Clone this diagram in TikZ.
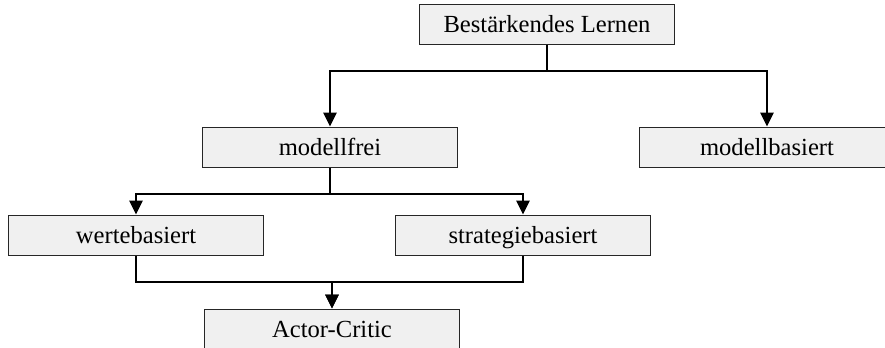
\documentclass[tikz,border=0pt]{standalone}
\usepackage{fontspec}
\setmainfont{Liberation Serif}
\usetikzlibrary{graphs,calc,arrows.meta}
\tikzstyle{block} = [minimum height=20pt, minimum width=127.5pt, inner sep=0pt, text height=9.6pt, text depth=1.4pt, text centered, draw=black!85, line width=0.5pt, fill=gray!12, font=\fontsize{12.3}{14}\selectfont]
\tikzstyle{branch} = [to path={-- ($(\tikztostart.south)+(0,26)$) -| (\tikztotarget)}, line width=1pt]

\begin{document}
\begin{tikzpicture}[x=0.5pt, y=-0.5pt, >={Triangle[length=7pt, width=6.7pt]}]
    \useasboundingbox (0,0) rectangle (885,348);
    \node[block](rl) at (547,24){Bestärkendes Lernen};
    \node[block](mf) at (330,147){modellfrei};
    \node[block](mb) at (767,147){modellbasiert};
    \node[block](wb) at (136,235){wertebasiert};
    \node[block](sb) at (523,235){strategiebasiert};
    \node[block](ac) at (332,329){Actor-Critic};

    \graph {
        (rl) ->[branch] (mf);
        (rl) ->[branch] (mb);
        (mf) ->[branch] (wb);
        (mf) ->[branch] (sb);
        (wb) ->[branch] (ac);
        (sb) ->[branch] (ac);
    };
\end{tikzpicture}
\end{document}
